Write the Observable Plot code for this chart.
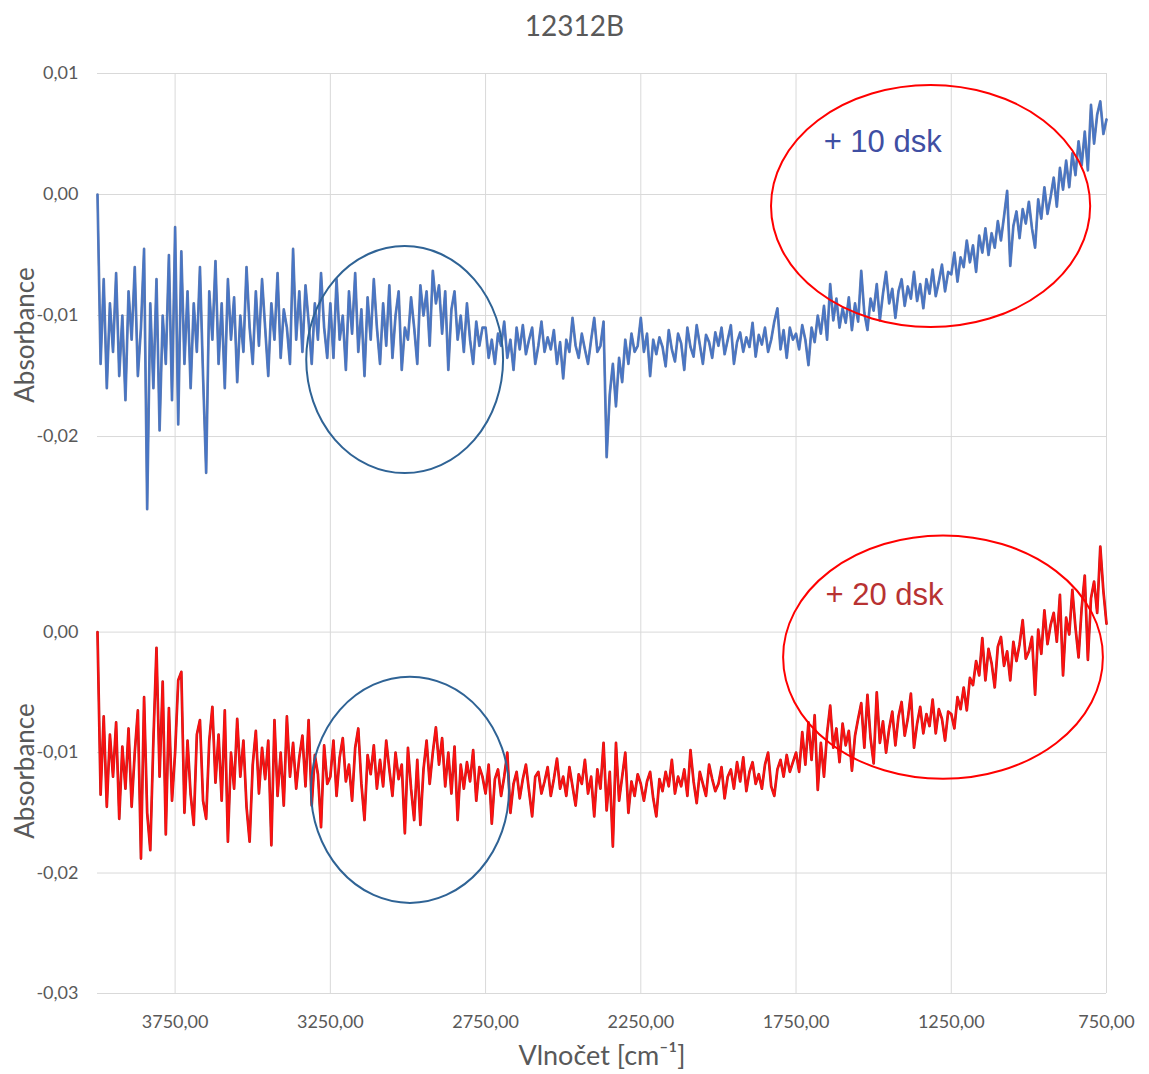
<!DOCTYPE html>
<html><head><meta charset="utf-8">
<script src="https://cdn.jsdelivr.net/npm/d3@7"></script>
<script src="https://cdn.jsdelivr.net/npm/@observablehq/plot@0.6"></script>
<style>
body{margin:0;background:#fff;}
#wrap{width:1149px;}
#title{height:60px;text-align:center;font-family:Lato,"Open Sans",sans-serif;font-size:28px;color:#595959;line-height:50px;}
svg{display:block;}
</style></head><body><div id="wrap"><div id="title"></div><div id="top"></div><div id="bottom"></div></div>
<script>
const title = "12312B";
const xLabel = "Vlnočet [cm⁻¹]";
const yLabel = "Absorbance";
// spectra sampled every 10 cm-1 from 4000 down to 750, values in mAbs (absorbance x 1000)
const waveStart = 4000, waveStep = 10;
const xTicks = [3750, 3250, 2750, 2250, 1750, 1250, 750];
const yTicksTop = [0.01, 0, -0.01, -0.02];
const yTicksBottom = [0, -0.01, -0.02, -0.03];
const seriesNames = ["+ 10 dsk", "+ 20 dsk"];

const blue10dsk = [
 0,-14,-7,-16,-9,-13,-6.5,-15,-10,-17,-8,-12,-6,-15,-11,-4.5,-26,-9,-16,-7,-19.5,-10,-14,-5,-17,
 -2.7,-19,-4.7,-14,-8,-16,-9,-13,-6,-15,-23,-8,-12,-5.5,-14,-9,-16,-7,-12,-8.5,-15.5,-10,-13,-6,-11,
 -14,-8,-12.5,-7,-11,-15,-9,-12,-6.5,-13.5,-9.5,-11,-14,-4.5,-12,-8,-13,-7.5,-10.5,-14,-9,-12,-6.5,-11,-13.5,
 -9,-13.5,-7,-12,-10,-14.5,-8,-11.5,-6.5,-13,-9.5,-15,-8.5,-12,-7,-11,-14,-9,-12.5,-7.5,-13.5,-10,-8,-14.5,-11,
 -12,-8.5,-11,-14,-7.5,-10,-8,-12.5,-6.3,-9,-7.5,-11.5,-8,-14.5,-9.5,-8,-12,-10,-13,-9,-12,-14,-10.5,-12.5,-11,
 -11,-13.5,-12,-14,-11.5,-12.5,-10.5,-13.5,-12,-14.5,-11,-12.8,-10.8,-13.2,-12,-11,-14,-12.5,-10.5,-13,-11.8,-12.8,-11.2,-14,-12.2,
 -15.2,-12,-13,-10.2,-12.5,-13.5,-11.5,-12.8,-14,-12,-10.2,-13,-12.5,-10.5,-21.7,-16.5,-14,-17.5,-13.5,-15.5,-12,-14,-11.5,-13,-12.5,
 -10.2,-13,-11.5,-15,-12,-13.2,-11.8,-12.6,-14.2,-11.2,-12.8,-13.8,-11.5,-12.3,-14.5,-11,-12.6,-13.4,-10.8,-12.4,-14,-11.6,-12.2,-13.5,-11.4,
 -12.5,-11,-13.2,-12,-10.8,-14,-12.2,-11.4,-13,-11.8,-12.6,-10.6,-13.4,-11.6,-12.4,-11,-13,-12,-10.5,-9.4,-12.8,-11.2,-13.5,-11,-12,
 -11.5,-12.8,-10.8,-12,-14.1,-11,-12.2,-10,-11.5,-9.2,-12,-7.4,-10.4,-8.6,-11,-9.4,-10.6,-8.5,-11.2,-9,-10.5,-6.3,-9.8,-11.2,-8.6,
 -9.6,-7.4,-10.4,-8.2,-6.4,-9,-7.8,-10.2,-8,-7,-9.2,-7.6,-8.6,-6.4,-8.8,-7.4,-9.4,-7,-8.2,-6.2,-8.4,-7.2,-5.8,-8,-6.4,
 -6.6,-4.8,-7.2,-5.2,-6,-3.8,-5.6,-4.2,-6.4,-3.4,-4.8,-2.8,-5,-3.2,-4.4,-2.2,-3.8,-1.8,0.3,-5.9,-2.6,-1.4,-3.6,-1.2,-2.4,
 -0.6,-2.8,-4.4,-0.4,-2,0.6,-1.6,-0.2,1.4,-1,2.2,0.4,2.8,0.6,3.4,1.6,4.4,2.4,5.2,2,7.4,4.2,6.6,7.7,5,
 6.2
];

const red20dsk = [
 0,-13.5,-7,-14.5,-8.5,-12,-7.5,-15.5,-9.5,-13,-8,-14.5,-10,-6.5,-18.8,-5.4,-15,-18.1,-9,-1.3,-12,-4.1,-16.8,-6.3,-14,
 -10,-4,-3.3,-15,-9,-13.5,-16,-8.5,-7.3,-14,-15.5,-9,-6.2,-12.5,-8.5,-14,-6.5,-17.4,-10,-13,-7.2,-12,-9,-14.5,-17.4,
 -11,-8.2,-13.4,-9.6,-12.2,-9,-17.7,-7.3,-13.6,-10,-14.4,-7,-12,-9.2,-13,-10.4,-8.6,-12.8,-7.3,-14.4,-10.2,-11.8,-16.2,-9.4,-12.6,
 -12,-9,-13.6,-10.4,-8.8,-12.4,-11,-14,-9.6,-8,-12.6,-15.6,-10.2,-11.8,-9.4,-13,-10.6,-12.8,-9,-11.4,-13.6,-10,-12.2,-11,-16.7,
 -9.6,-13,-15.6,-10.6,-16,-11.4,-9,-12.6,-10,-7.9,-11,-8.8,-12.8,-10,-13.4,-9.5,-15.6,-11,-13,-10.8,-12.4,-9.8,-14,-11.2,-12,
 -13.4,-11,-15.9,-12.2,-11.4,-13.6,-12,-10,-15,-12.6,-11.6,-13.8,-12.2,-11,-13.2,-15.3,-12,-11.6,-13.4,-12.4,-11.2,-13.6,-12.2,-10.5,-13,
 -12,-13.6,-11.2,-12.8,-14.4,-11.8,-12.6,-10.6,-13.4,-12,-15.3,-11.4,-13,-9.2,-14.8,-11.6,-17.8,-9.2,-14,-12,-10,-15,-12.4,-13.6,-11.8,
 -12.6,-14,-12.4,-11.6,-13.8,-15.3,-12.2,-13.2,-11.6,-12.8,-10.6,-13.4,-12,-12.8,-11.4,-13.6,-9.8,-12.4,-14.2,-11.6,-12.6,-13.6,-11,-12.2,-13.2,
 -12.6,-11.2,-13.8,-12,-11.4,-13,-10.8,-12.4,-10.4,-13.2,-11.6,-10.8,-12.6,-11.8,-13,-11,-10,-12.8,-13.6,-11.4,-10.6,-12,-10.2,-11.6,-10.8,
 -10,-11.6,-8.3,-11,-7.5,-10.6,-6.9,-13.1,-9.2,-12,-8.4,-6.1,-9.6,-8,-10.8,-7.6,-9.4,-8.2,-11.5,-8.6,-7.2,-5.9,-9.6,-5.2,-8.8,
 -10.9,-5,-9.2,-7.4,-10,-8,-6.6,-9.4,-7,-5.8,-8.6,-7.2,-5.1,-9.6,-7.6,-6.2,-8.4,-6.8,-7.8,-5.6,-8.4,-6.4,-7.2,-9,-6.6,
 -6.8,-8,-5.4,-6.4,-4.6,-6.5,-3.8,-4.4,-2.4,-3.6,-0.5,-4,-1.4,-2.6,-4.6,-1.2,-0.4,-2.8,-1.6,-4,-0.8,-2.4,-1,1,-2.2,
 -1.6,-0.4,-5.2,0.2,-1.8,1.8,-1,0.6,1.6,-0.8,3.1,-3.6,1.2,-0.2,3.5,0.4,-2.1,2,4.7,-2.3,2.8,4.2,1.6,7.1,3.4,
 0.7
];

document.getElementById("title").textContent = title;

const toRows = arr => arr.map((v, i) => ({wn: waveStart - i * waveStep, a: v / 1000}));
const fmt = d => d.toFixed(2).replace(".", ",");
const font = "Lato, 'Open Sans', sans-serif";
const grid = "#d9d9d9", ink = "#595959";

function panel({rows, yDomain, yTicks, height, marginTop, marginBottom, under, over, label, labelAt, labelColor, ellipses, labelDy, xAxis}) {
  const marks = [
    Plot.gridX(xTicks, {stroke: grid, strokeOpacity: 1}),
    Plot.gridY(yTicks, {stroke: grid, strokeOpacity: 1}),
    Plot.axisY(yTicks, {tickSize: 0, tickPadding: 19, tickFormat: fmt, fontSize: 18, fill: ink, label: null}),
    Plot.text([yLabel], {frameAnchor: "left", textAnchor: "middle", rotate: -90, dx: -72, dy: labelDy, fontSize: 26, fill: ink}),
    Plot.line(rows, {x: "wn", y: "a", stroke: under, strokeWidth: 2.7}),
    Plot.line(rows, {x: "wn", y: "a", stroke: over, strokeWidth: 1.7}),
    Plot.text([label], {x: labelAt[0], y: labelAt[1], fontSize: 31, fill: labelColor, fontFamily: "'Liberation Sans', Arial, sans-serif"})
  ];
  if (xAxis) {
    marks.push(Plot.axisX(xTicks, {tickSize: 0, tickPadding: 22, tickFormat: fmt, fontSize: 18, fill: ink, label: null}));
    marks.push(Plot.text([xLabel], {frameAnchor: "bottom", dy: 71, fontSize: 27, fill: ink}));
  }
  const p = Plot.plot({
    width: 1149, height, marginTop, marginBottom, marginLeft: 97, marginRight: 43,
    style: {fontFamily: font, background: "white", overflow: "visible"},
    x: {domain: [waveStart, 750], axis: null},
    y: {domain: yDomain, axis: null},
    marks
  });
  const sx = p.scale("x"), sy = p.scale("y");
  const svg = d3.select(p);
  for (const e of ellipses) {
    const cx = sx.apply(e.wn), cy = sy.apply(e.a);
    svg.append("ellipse")
      .attr("cx", cx).attr("cy", cy)
      .attr("rx", Math.abs(sx.apply(e.wn - e.dwn) - cx))
      .attr("ry", Math.abs(sy.apply(e.a + e.da) - cy))
      .attr("fill", "none").attr("stroke", e.color).attr("stroke-width", 2);
  }
  return p;
}

// annotation ellipses in data units (centre wavenumber, centre absorbance, half-width, half-height)
const topEllipses = [
  {wn: 3009, a: -0.01368, dwn: 317, da: 0.00938, color: "#2f6395"},
  {wn: 1315, a: -0.00099, dwn: 514, da: 0.0100, color: "#ff0000"}
];
const bottomEllipses = [
  {wn: 2992, a: -0.01313, dwn: 319, da: 0.00939, color: "#2f6395"},
  {wn: 1275, a: -0.00212, dwn: 515, da: 0.0101, color: "#ff0000"}
];

document.getElementById("top").append(panel({
  rows: toRows(blue10dsk), yDomain: [-0.0276, 0.01], yTicks: yTicksTop,
  height: 468, marginTop: 13, marginBottom: 0,
  under: "#6a80ac", over: "#4775c6",
  label: seriesNames[0], labelAt: [1471, 0.0043], labelColor: "#3f4fa3",
  ellipses: topEllipses, labelDy: 34, xAxis: false
}));
document.getElementById("bottom").append(panel({
  rows: toRows(red20dsk), yDomain: [-0.03, 0.0086], yTicks: yTicksBottom,
  height: 546, marginTop: 0, marginBottom: 81,
  under: "#bb2020", over: "#ff1010",
  label: seriesNames[1], labelAt: [1465, 0.00307], labelColor: "#b83232",
  ellipses: bottomEllipses, labelDy: 10, xAxis: true
}));
</script></body></html>
